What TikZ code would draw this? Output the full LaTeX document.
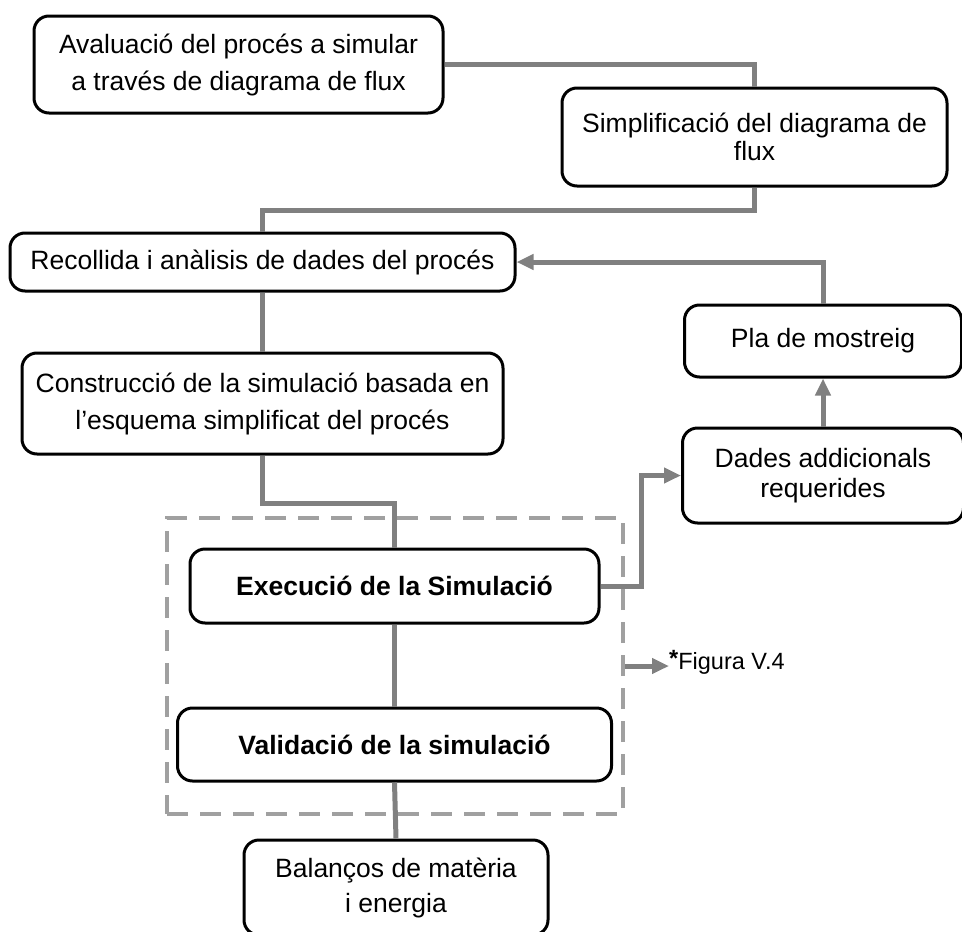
\documentclass[tikz,border=0pt]{standalone}
\usepackage{fontspec}
\setmainfont{Liberation Sans}
\usetikzlibrary{arrows.meta}

\definecolor{linkgray}{HTML}{808080}
\definecolor{groupgray}{HTML}{A0A0A0}

\tikzset{
  box/.style={draw=black, fill=white, line width=3pt, rounded corners=15pt,
    inner sep=0pt, align=center, font=\fontsize{26.5}{37}\selectfont},
  link/.style={draw=linkgray, line width=5pt},
  linkarrow/.style={link, -{Triangle[length=17pt,width=15pt]}},
  groupbox/.style={draw=groupgray, line width=3.5pt, dash pattern=on 21pt off 12pt,
    inner sep=0pt},
}

\begin{document}
\begin{tikzpicture}[x=1pt,y=-1pt]
\useasboundingbox (0,0) rectangle (962,932);
\clip (0,0) rectangle (962,932);

% process steps
\node[box, minimum width=409pt, minimum height=97pt] (b1) at (238.5,64.5)
  {Avaluació del procés a simular\\a través de diagrama de flux};
\node[box, minimum width=385pt, minimum height=98pt,
  font=\fontsize{26.5}{28}\selectfont] (b2) at (754.5,137)
  {Simplificació del diagrama de\\flux};
\node[box, minimum width=505pt, minimum height=58pt] (b3) at (262.5,262)
  {Recollida i anàlisis de dades del procés};
\node[box, minimum width=481pt, minimum height=101pt] (b4) at (262.5,403.5)
  {Construcció de la simulació basada en\\l’esquema simplificat del procés};
\node[box, minimum width=277pt, minimum height=72pt] (pla) at (823,341)
  {Pla de mostreig};
\node[box, minimum width=281pt, minimum height=95pt,
  font=\fontsize{26.5}{30}\selectfont] (dades) at (823,475.5)
  {Dades addicionals\\requerides};
\node[box, minimum width=409pt, minimum height=74pt,
  font=\fontsize{26.5}{37}\selectfont\bfseries] (exec) at (394.5,586)
  {Execució de la Simulació};
\node[box, minimum width=434pt, minimum height=73pt,
  font=\fontsize{26.5}{37}\selectfont\bfseries] (valid) at (394.5,744.5)
  {Validació de la simulació};
\node[box, minimum width=304pt, minimum height=95pt,
  font=\fontsize{26.5}{35}\selectfont] (bal) at (396,887.5)
  {Balanços de matèria\\i energia};

% reference label
\node[anchor=base west, inner sep=0pt, font=\fontsize{23.5}{28}\selectfont] (fig)
  at (669,669) {\raisebox{3pt}{\textbf{*}}Figura V.4};

% connectors
\draw[link] (b1.east) -| (b2.north);
\draw[link] (b2.south) -- ++(0,22.5) -| (b3.north);
\draw[link] (b3.south) -- (b4.north);
\draw[link] (b4.south) -- ++(0,48) -| (exec.north);
\draw[linkarrow] (exec.east) -- ++(41,0) |- (dades.west);
\draw[linkarrow] (dades.north) -- (pla.south);
\draw[linkarrow] (pla.north) |- (b3.east);
\draw[link] (exec.south) -- (valid.north);
\draw[link] (valid.south) -- (bal.north);

% simulation group (dashed frame) and its reference arrow
\node[groupbox, minimum width=456pt, minimum height=296pt] (group) at (395,666) {};
\draw[linkarrow] (group.east) -- (group.east -| fig.west);
\end{tikzpicture}
\end{document}
